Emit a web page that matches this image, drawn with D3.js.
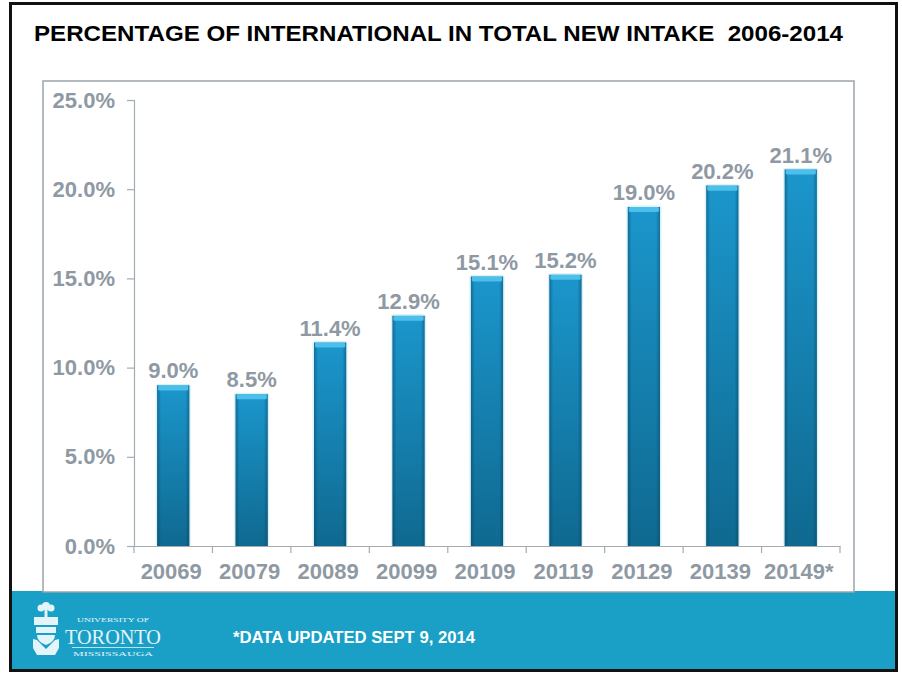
<!DOCTYPE html>
<html><head><meta charset="utf-8">
<script src="https://cdn.jsdelivr.net/npm/d3@7"></script>
<style>html,body{margin:0;padding:0;background:#fff;}svg{display:block;font-family:"Liberation Sans",Arial,sans-serif;}</style>
</head><body>
<svg id="c" width="902" height="673"></svg>
<script>
const categories = ["20069","20079","20089","20099","20109","20119","20129","20139","20149*"];
const values = [9.0, 8.5, 11.4, 12.9, 15.1, 15.2, 19.0, 20.2, 21.1];
const yTicks = [0, 5, 10, 15, 20, 25];
const titleText = "PERCENTAGE OF INTERNATIONAL IN TOTAL NEW INTAKE  2006-2014";
const footnote = "*DATA UPDATED SEPT 9, 2014";

const svg = d3.select("#c");
const grey = "#8e99a3";
const axisGrey = "#a3acb3";

const defs = svg.append("defs");
const gv = defs.append("linearGradient").attr("id","bv").attr("x1",0).attr("y1",0).attr("x2",0).attr("y2",1);
gv.append("stop").attr("offset","0%").attr("stop-color","#1b96cc");
gv.append("stop").attr("offset","100%").attr("stop-color","#0f6990");
const gh = defs.append("linearGradient").attr("id","bh").attr("x1",0).attr("y1",0).attr("x2",1).attr("y2",0);
gh.append("stop").attr("offset","0%").attr("stop-color","#0a3a55").attr("stop-opacity",0.45);
gh.append("stop").attr("offset","12%").attr("stop-color","#0a3a55").attr("stop-opacity",0.0);
gh.append("stop").attr("offset","88%").attr("stop-color","#0a3a55").attr("stop-opacity",0.0);
gh.append("stop").attr("offset","100%").attr("stop-color","#0a3a55").attr("stop-opacity",0.45);

// footer band
svg.append("rect").attr("x",11).attr("y",591).attr("width",886).attr("height",80).attr("fill","#1aa0c6");
// outer frame
svg.append("rect").attr("x",10.5).attr("y",3.5).attr("width",886).attr("height",667)
  .attr("fill","none").attr("stroke","#111").attr("stroke-width",3);
// chart panel
svg.append("rect").attr("x",43).attr("y",81).attr("width",811).attr("height",511)
  .attr("fill","#fff").attr("stroke","#9aa4ac").attr("stroke-width",1.5);

// title
svg.append("text").attr("x",34).attr("y",41).attr("font-size",22).attr("font-weight","bold")
  .attr("fill","#000").attr("textLength",809).attr("lengthAdjust","spacingAndGlyphs")
  .style("white-space","pre").text(titleText);

const x = d3.scaleBand().domain(categories).range([134, 840]).paddingInner(0.59).paddingOuter(0.295);
const xb = d3.scaleBand().domain(categories).range([134, 840]);
const y = d3.scaleLinear().domain([0, 25]).range([546, 100]);

// y axis
const ya = svg.append("g").attr("transform","translate(134,0)")
  .call(d3.axisLeft(y).tickValues(yTicks).tickSize(7).tickPadding(12).tickFormat(d => d.toFixed(1) + "%"));
ya.select(".domain").attr("stroke",axisGrey).attr("stroke-width",1.2);
ya.selectAll(".tick line").attr("stroke",axisGrey).attr("stroke-width",1.2);
ya.selectAll(".tick text").attr("fill",grey).attr("font-size",22).attr("font-weight","bold")
  .attr("font-family","'Liberation Sans',Arial,sans-serif");

// x axis
const xa = svg.append("g").attr("transform","translate(0,546)")
  .call(d3.axisBottom(xb).tickSize(0).tickPadding(17).tickSizeOuter(0));
xa.select(".domain").attr("stroke",axisGrey).attr("stroke-width",1.2);
xa.selectAll(".tick text").attr("fill",grey).attr("font-size",22).attr("font-weight","bold")
  .attr("dx",-2).attr("font-family","'Liberation Sans',Arial,sans-serif");
// boundary ticks
const bounds = categories.map(c => xb(c)).concat([xb.range()[1]]);
svg.append("g").selectAll("line").data(bounds).join("line")
  .attr("x1",d=>d).attr("x2",d=>d).attr("y1",546).attr("y2",553)
  .attr("stroke",axisGrey).attr("stroke-width",1.2);

// bars
const bars = svg.append("g");
const data = categories.map((c,i)=>({c, v: values[i]}));
bars.selectAll("rect.glow").data(data).join("rect").attr("class","glow")
  .attr("x",d=>x(d.c)-1.5).attr("y",d=>y(d.v)-1.5).attr("width",x.bandwidth()+3)
  .attr("height",d=>y(0)-y(d.v)+1.5).attr("fill","#d9f1fa").attr("rx",2);
bars.selectAll("rect.body").data(data).join("rect").attr("class","body")
  .attr("x",d=>x(d.c)).attr("y",d=>y(d.v)).attr("width",x.bandwidth())
  .attr("height",d=>y(0)-y(d.v)).attr("fill","url(#bv)");
bars.selectAll("rect.shade").data(data).join("rect").attr("class","shade")
  .attr("x",d=>x(d.c)).attr("y",d=>y(d.v)).attr("width",x.bandwidth())
  .attr("height",d=>y(0)-y(d.v)).attr("fill","url(#bh)");
bars.selectAll("rect.cap").data(data).join("rect").attr("class","cap")
  .attr("x",d=>x(d.c)+1).attr("y",d=>y(d.v)).attr("width",x.bandwidth()-2)
  .attr("height",5).attr("fill","#4cc0ea").attr("rx",1.5);

// value labels
svg.append("g").selectAll("text").data(data).join("text")
  .attr("x",d=>x(d.c)+x.bandwidth()/2).attr("y",d=>y(d.v)-7)
  .attr("text-anchor","middle").attr("font-size",22).attr("font-weight","bold").attr("fill",grey)
  .text(d=>d.v.toFixed(1)+"%");

// footnote
svg.append("text").attr("x",233).attr("y",643).attr("font-size",16).attr("font-weight","bold")
  .attr("fill","#fff").attr("textLength",242).attr("lengthAdjust","spacingAndGlyphs").text(footnote);

// logo
const logo = svg.append("g").attr("fill","#e3f4fa");
logo.append("circle").attr("cx",46).attr("cy",606).attr("r",4);
logo.append("circle").attr("cx",41).attr("cy",608).attr("r",3.5);
logo.append("circle").attr("cx",51).attr("cy",608).attr("r",3.5);
logo.append("rect").attr("x",44.5).attr("y",609).attr("width",3).attr("height",8);
logo.append("path").attr("d","M34,617 h24 v8 h-24 z");
logo.append("path").attr("d","M36,627 h20 v6 h-20 z");
logo.append("path").attr("d","M37,635 h18 q0,7 -9,10 q-9,-3 -9,-10 z");
logo.append("path").attr("d","M33,639 l4,1 l9,9 l9,-9 l4,-1 v9 l-4,7 h-18 l-4,-7 z");
logo.append("text").attr("x",113).attr("y",622).attr("text-anchor","middle").attr("font-size",6.5)
  .attr("font-family","'Liberation Serif',serif").attr("textLength",72).attr("lengthAdjust","spacingAndGlyphs").text("UNIVERSITY OF");
logo.append("text").attr("x",113).attr("y",644).attr("text-anchor","middle").attr("font-size",20)
  .attr("font-family","'Liberation Serif',serif").attr("textLength",96).attr("lengthAdjust","spacingAndGlyphs").text("TORONTO");
logo.append("rect").attr("x",72).attr("y",647).attr("width",82).attr("height",0.8);
logo.append("text").attr("x",113).attr("y",656).attr("text-anchor","middle").attr("font-size",6.5)
  .attr("font-family","'Liberation Serif',serif").attr("textLength",80).attr("lengthAdjust","spacingAndGlyphs").text("MISSISSAUGA");
</script>
</body></html>
